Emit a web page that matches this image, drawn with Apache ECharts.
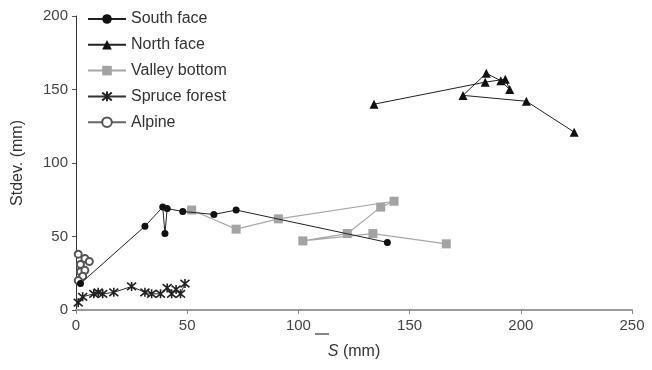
<!DOCTYPE html>
<html>
<head>
<meta charset="utf-8">
<script src="https://cdn.jsdelivr.net/npm/echarts@6/dist/echarts.min.js"></script>
<style>
  html, body { margin: 0; padding: 0; background: #fff; }
  #chart { width: 652px; height: 370px; }
</style>
</head>
<body>
<div id="chart"></div>
<script>
// values (x = mean S, y = stdev, both mm)
var southX = [2, 31, 39, 40, 41, 48, 62, 72, 140];
var southY = [18, 57, 70, 52, 69, 67, 65, 68, 46];

var northX = [134, 184, 193, 195, 191, 184.5, 174, 202.5, 224];
var northY = [140, 155, 157, 150, 156, 161, 146, 142, 121];

var valleyX = [52, 72, 91, 143, 137, 122, 102, 133.5, 166.5];
var valleyY = [68, 55, 62, 74, 70, 52, 47, 52, 45];

var spruceX = [1, 3, 8, 10, 12, 17, 25, 31, 34, 38, 41, 43, 45, 47, 49];
var spruceY = [5, 9, 11, 12, 11, 12, 16, 12, 11, 11, 15, 11, 14, 11, 18];

var alpineX = [1, 4, 6, 2, 2, 4, 3, 1];
var alpineY = [38, 35, 33, 31, 26, 27, 23, 20];

var xTicks = [0, 50, 100, 150, 200, 250];
var yTicks = [0, 50, 100, 150, 200];

function pairs(xs, ys) {
    return xs.map(function (x, i) { return [x, ys[i]]; });
}

var font = 'Liberation Sans, Arial, sans-serif';
var asterisk = 'path://M0,0L10,10M10,0L0,10M5,-1L5,11';

var chart = echarts.init(document.getElementById('chart'));
chart.setOption({
    animation: false,
    backgroundColor: '#fff',
    textStyle: { fontFamily: font },
    grid: { left: 76, right: 20, top: 16, bottom: 60 },
    legend: {
        orient: 'vertical',
        left: 82,
        top: 6,
        itemWidth: 38,
        itemHeight: 12,
        itemGap: 9.8,
        textStyle: { fontSize: 16, color: '#333', fontFamily: font },
        data: ['South face', 'North face', 'Valley bottom', 'Spruce forest', 'Alpine']
    },
    xAxis: {
        type: 'value',
        min: xTicks[0],
        max: xTicks[xTicks.length - 1],
        interval: 50,
        name: '{s|S} (mm)',
        nameLocation: 'middle',
        nameGap: 34,
        nameTextStyle: {
            fontSize: 16, color: '#333', fontFamily: font,
            rich: { s: { fontSize: 16, fontStyle: 'italic', color: '#333', fontFamily: font } }
        },
        axisLine: { lineStyle: { color: '#9a9a9a', width: 2 } },
        axisTick: { length: 4, lineStyle: { color: '#888' } },
        axisLabel: { fontSize: 15, color: '#444', margin: 8 },
        splitLine: { show: false }
    },
    yAxis: {
        type: 'value',
        min: yTicks[0],
        max: yTicks[yTicks.length - 1],
        interval: 50,
        name: 'Stdev. (mm)',
        nameLocation: 'middle',
        nameGap: 50,
        nameTextStyle: { fontSize: 16, color: '#333', fontFamily: font },
        axisLine: { show: true, lineStyle: { color: '#333', width: 1 } },
        axisTick: { show: true, length: 4, lineStyle: { color: '#555' } },
        axisLabel: { fontSize: 15, color: '#444', margin: 8 },
        splitLine: { show: false }
    },
    graphic: [{
        // overbar of the mean S
        type: 'line',
        shape: { x1: 315, y1: 334, x2: 329, y2: 334 },
        style: { stroke: '#333', lineWidth: 1.2 }
    }],
    series: [
        {
            name: 'South face', type: 'line',
            data: pairs(southX, southY),
            symbol: 'circle', symbolSize: 7,
            itemStyle: { color: '#111' },
            lineStyle: { color: '#222', width: 1 },
            z: 5
        },
        {
            name: 'North face', type: 'line',
            data: pairs(northX, northY),
            symbol: 'triangle', symbolSize: 9,
            itemStyle: { color: '#111' },
            lineStyle: { color: '#222', width: 1 },
            z: 5
        },
        {
            name: 'Valley bottom', type: 'line',
            data: pairs(valleyX, valleyY),
            symbol: 'rect', symbolSize: 9,
            itemStyle: { color: '#a3a3a3' },
            lineStyle: { color: '#a8a8a8', width: 1.2 },
            z: 4
        },
        {
            name: 'Spruce forest', type: 'line',
            data: pairs(spruceX, spruceY),
            symbol: asterisk, symbolSize: 9,
            itemStyle: { color: 'rgba(0,0,0,0)', borderColor: '#222', borderWidth: 1.6 },
            lineStyle: { color: '#333', width: 1 },
            z: 3
        },
        {
            name: 'Alpine', type: 'line',
            data: pairs(alpineX, alpineY),
            symbol: 'emptyCircle', symbolSize: 7,
            itemStyle: { color: '#555', borderWidth: 1.1 },
            lineStyle: { color: '#666', width: 1 },
            z: 3
        }
    ]
});
</script>
</body>
</html>
